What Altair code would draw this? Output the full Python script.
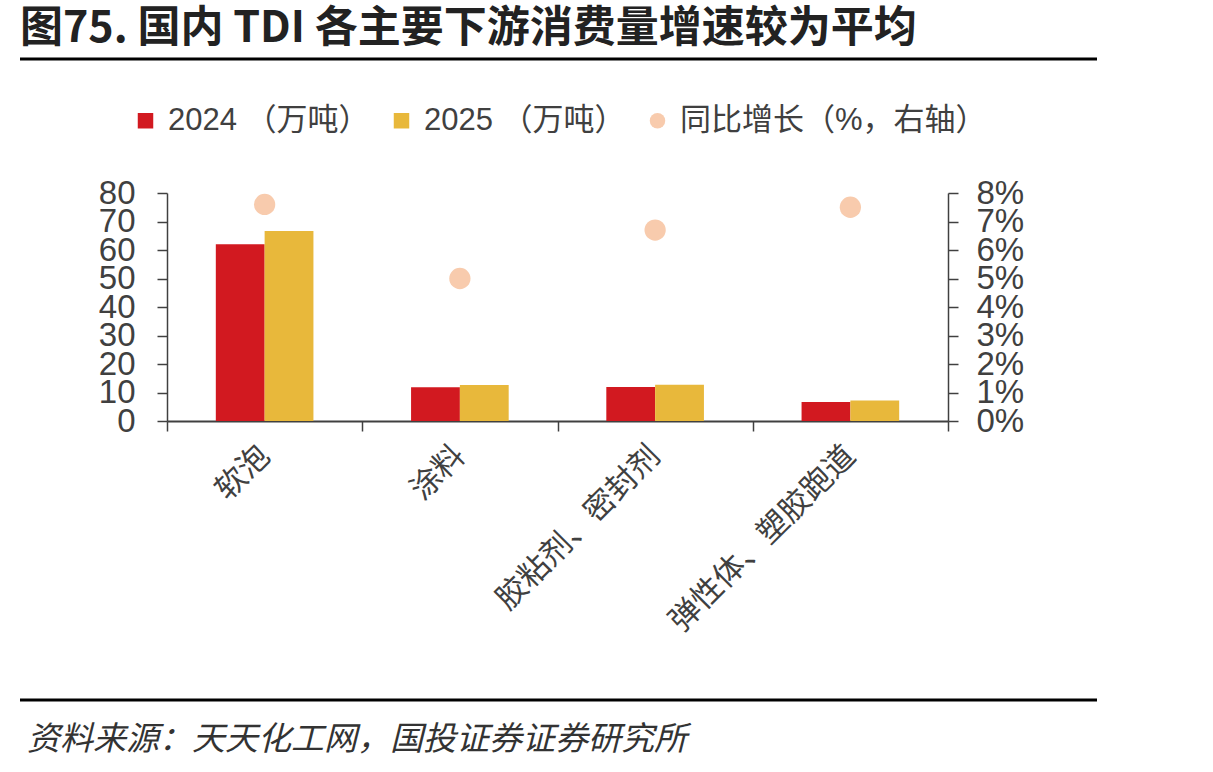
import altair as alt
import pandas as pd

categories = ["软泡", "涂料", "胶粘剂、密封剂", "弹性体、塑胶跑道"]
v2024 = [62.0, 11.8, 11.9, 6.7]
v2025 = [66.7, 12.6, 12.7, 7.2]
yoy = [7.6, 5.0, 6.7, 7.5]

series = ["2024 （万吨）", "2025 （万吨）", "同比增长（%，右轴）"]
colors = ["#D21920", "#E8B83B", "#F8CBAD"]

title_text = "图75. 国内 TDI 各主要下游消费量增速较为平均"
source_text = "资料来源：天天化工网，国投证券证券研究所"

bar_rows = []
for c, a, b in zip(categories, v2024, v2025):
    bar_rows.append({"cat": c, "series": series[0], "value": a})
    bar_rows.append({"cat": c, "series": series[1], "value": b})
bar_df = pd.DataFrame(bar_rows)
pt_df = pd.DataFrame({"cat": categories, "yoy": yoy, "series": [series[2]] * len(categories)})

AX = "#404040"
NUMFONT = "Liberation Sans, Arial, Noto Sans CJK SC"
CJK = "Noto Sans CJK SC"

color_scale = alt.Scale(domain=series, range=colors)

xenc = alt.X(
    "cat:N",
    sort=categories,
    scale=alt.Scale(paddingInner=0, paddingOuter=0),
    axis=alt.Axis(
        title=None,
        tickBand="extent",
        domainColor=AX,
        domainWidth=2,
        tickColor=AX,
        tickWidth=1.5,
        tickSize=10,
        labelAngle=-45,
        labelAlign="right",
        labelBaseline="middle",
        labelFont=CJK,
        labelFontSize=31,
        labelColor=AX,
        labelPadding=20,
        labelLimit=500,
        grid=False,
    ),
)

bars = alt.Chart(bar_df).mark_bar().encode(
    x=xenc,
    xOffset=alt.XOffset(
        "series:N",
        sort=series[:2],
        scale=alt.Scale(paddingOuter=1, paddingInner=0),
    ),
    y=alt.Y(
        "value:Q",
        scale=alt.Scale(domain=[0, 80], nice=False),
        axis=alt.Axis(
            title=None,
            values=list(range(0, 81, 10)),
            domainColor=AX,
            domainWidth=1.5,
            tickColor=AX,
            tickWidth=1.5,
            tickSize=10,
            labelFont=NUMFONT,
            labelFontSize=33,
            labelColor=AX,
            labelPadding=22,
            labelOverlap=False,
            grid=False,
        ),
    ),
    color=alt.Color(
        "series:N",
        scale=color_scale,
        legend=alt.Legend(
            title=None,
            orient="none",
            legendX=-37,
            legendY=-88,
            direction="horizontal",
            symbolSize=240,
            symbolStrokeWidth=0,
            labelFont=NUMFONT,
            labelFontSize=31,
            labelColor=AX,
            labelOffset=7,
            columnPadding=16,
            labelLimit=500,
        ),
    ),
)

points = alt.Chart(pt_df).mark_point(filled=True, opacity=1, size=452).encode(
    x=alt.X("cat:N", sort=categories),
    y=alt.Y(
        "yoy:Q",
        scale=alt.Scale(domain=[0, 8], nice=False),
        axis=alt.Axis(
            title=None,
            orient="right",
            values=list(range(0, 9)),
            labelExpr="datum.value + '%'",
            domainColor=AX,
            domainWidth=1.5,
            tickColor=AX,
            tickWidth=1.5,
            tickSize=10,
            labelFont=NUMFONT,
            labelFontSize=33,
            labelColor=AX,
            labelPadding=18,
            labelOverlap=False,
            grid=False,
        ),
    ),
    color=alt.Color("series:N", scale=color_scale),
    shape=alt.Shape("series:N", scale=alt.Scale(domain=series, range=["square", "square", "circle"])),
)

one = pd.DataFrame({"k": [0]})

title = alt.Chart(one).mark_text(
    align="left", baseline="alphabetic", font=CJK, fontSize=43, fontWeight="bold", color="#222222"
).encode(x=alt.value(-147), y=alt.value(-151), text=alt.value(title_text))

top_line = alt.Chart(one).mark_rule(color="#000000", strokeWidth=3).encode(
    x=alt.value(-147), x2=alt.value(930), y=alt.value(-134)
)
bottom_line = alt.Chart(one).mark_rule(color="#000000", strokeWidth=3).encode(
    x=alt.value(-147), x2=alt.value(930), y=alt.value(507)
)
source = alt.Chart(one).mark_text(
    align="left", baseline="alphabetic", font=CJK, fontSize=33, fontStyle="italic", color="#333333"
).encode(x=alt.value(-140), y=alt.value(557), text=alt.value(source_text))

chart = (
    alt.layer(bars, points, title, top_line, bottom_line, source)
    .resolve_scale(y="independent")
    .properties(
        width=781,
        height=228,
        autosize=alt.AutoSizeParams(type="none"),
        padding={"left": 167, "top": 193, "right": 265, "bottom": 351},
        background="white",
    )
    .configure_view(stroke=None)
)

chart.save("out.html", embed_options={"renderer": "svg", "actions": False})
